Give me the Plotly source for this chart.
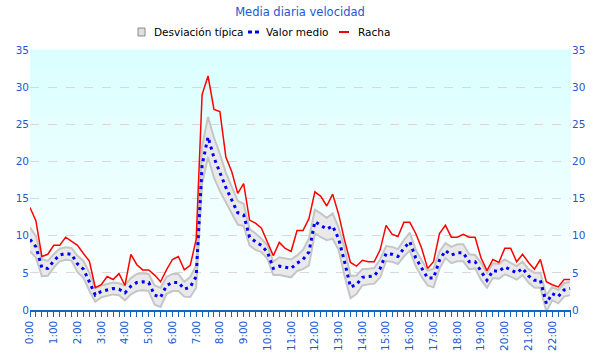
import plotly.graph_objects as go

# ---- data (15-minute steps from 0:00 to 22:45) ----
horas = [i * 0.25 for i in range(92)]

valor_medio = [9.5, 8.5, 5.7, 5.6, 6.6, 7.4, 7.6, 7.5, 6.2, 5.5,
               3.8, 2.0, 2.5, 2.7, 2.9, 2.8, 2.3, 3.2, 3.7, 3.8,
               3.7, 2.0, 1.7, 3.3, 3.7, 3.7, 2.8, 3.1, 4.5, 19.5,
               23.3, 20.5, 18.5, 16.5, 14.8, 13.1, 12.8, 9.8, 9.2, 8.7,
               7.8, 5.6, 5.9, 5.8, 5.6, 6.3, 6.8, 7.8, 11.9, 11.4,
               10.9, 11.3, 9.6, 6.5, 3.1, 3.4, 4.4, 4.5, 4.6, 5.6,
               7.6, 7.5, 7.2, 8.3, 9.2, 7.0, 5.6, 4.3, 4.3, 6.7,
               8.0, 7.4, 7.7, 7.7, 6.5, 6.5, 5.2, 4.0, 5.3, 5.2,
               5.8, 5.4, 5.0, 5.6, 4.6, 4.0, 4.0, 0.9, 2.2, 1.8,
               2.7, 2.9]

desviacion = [1.6, 1.45, 1.15, 1.0, 0.9, 0.85, 0.85, 0.85, 1.1, 1.15,
              1.2, 0.9, 0.8, 0.8, 0.8, 0.8, 1.0, 1.1, 1.15, 1.15,
              1.15, 1.3, 1.3, 1.15, 1.15, 1.15, 1.0, 1.35, 1.5, 2.5,
              2.7, 2.7, 2.5, 2.0, 1.8, 1.6, 1.5, 1.1, 1.1, 0.9,
              0.9, 0.9, 1.2, 1.2, 1.2, 1.05, 1.3, 1.8, 1.6, 1.6,
              1.5, 1.7, 1.5, 1.9, 1.5, 1.25, 1.1, 1.05, 1.05, 1.2,
              1.0, 1.0, 1.0, 1.1, 1.2, 1.1, 1.15, 1.0, 1.25, 1.15,
              1.0, 1.1, 1.15, 1.15, 1.0, 0.9, 1.15, 1.0, 1.0, 1.0,
              1.0, 0.9, 0.9, 0.9, 0.9, 1.0, 1.0, 1.1, 0.9, 0.9,
              0.9, 0.9]

racha = [13.8, 12.0, 7.2, 7.5, 8.7, 8.7, 9.8, 9.2, 8.7, 7.6,
         6.6, 3.0, 3.4, 4.5, 4.1, 4.9, 3.3, 7.5, 6.1, 5.4,
         5.4, 4.7, 3.8, 5.4, 6.8, 7.2, 5.4, 6.0, 9.5, 29.0,
         31.5, 27.0, 26.7, 20.6, 18.6, 15.7, 17.0, 12.1, 11.7, 11.0,
         9.2, 7.3, 9.1, 8.3, 7.9, 10.7, 10.7, 12.3, 15.9, 15.3,
         14.0, 15.6, 12.9, 9.4, 6.4, 5.9, 6.7, 6.5, 6.5, 8.1,
         11.4, 10.2, 9.9, 11.8, 11.8, 10.3, 8.3, 5.6, 6.5, 10.3,
         11.4, 9.8, 9.8, 10.2, 9.8, 9.8, 7.0, 5.3, 6.8, 6.4,
         8.3, 8.3, 6.5, 7.5, 6.4, 5.5, 6.8, 3.8, 3.4, 3.1,
         4.1, 4.1]

tick_horas = list(range(23))
tick_labels = [f"{h}:00" for h in tick_horas]
y_ticks = [0, 5, 10, 15, 20, 25, 30, 35]
series_names = ["Desviación típica", "Valor medio", "Racha"]

superior = [m + d for m, d in zip(valor_medio, desviacion)]
inferior = [m - d for m, d in zip(valor_medio, desviacion)]

BLUE_TXT = "#2358d0"
AXIS_BLUE = "#1565c0"
FONT = "DejaVu Sans"

FW, FH = 600, 360
# plot area in page pixels
L, R, T, B = 30, 571, 50, 310
W, H = R - L, B - T


def px(xp):
    return (xp - L) / W


def py(yp):
    return (B - yp) / H


fig = go.Figure()

fig.add_trace(go.Scatter(x=horas, y=inferior, mode="lines",
                         line=dict(color="#c6c6c6", width=2),
                         showlegend=False, hoverinfo="skip"))
fig.add_trace(go.Scatter(x=horas, y=superior, mode="lines", fill="tonexty",
                         fillcolor="#e9e9e9",
                         line=dict(color="#c6c6c6", width=2),
                         name=series_names[0], showlegend=False))
fig.add_trace(go.Scatter(x=horas, y=valor_medio, mode="lines",
                         line=dict(color="#0000ff", width=3, dash="3px,4px"),
                         name=series_names[1], showlegend=False))
fig.add_trace(go.Scatter(x=horas, y=racha, mode="lines",
                         line=dict(color="#ff0000", width=1.5),
                         name=series_names[2], showlegend=False))
# invisible trace to show the right-hand axis
fig.add_trace(go.Scatter(x=[horas[0]], y=[0], yaxis="y2", mode="markers",
                         marker=dict(opacity=0), showlegend=False,
                         hoverinfo="skip"))

# vertical gradient background (cyan -> white)
shapes = []
n = 60
for k in range(n):
    t = k / n
    r = int(218 + (255 - 218) * t)
    col = f"rgb({r},255,255)"
    shapes.append(dict(type="rect", xref="x domain", yref="y domain",
                       x0=0, x1=1, y0=1 - (k + 1) / n, y1=1 - k / n + 0.002,
                       fillcolor=col, line=dict(width=0), layer="below"))

# manual legend
ly = 32
shapes.append(dict(type="rect", xref="paper", yref="paper",
                   x0=px(138), x1=px(145), y0=py(ly + 4), y1=py(ly - 4),
                   fillcolor="#dedede", line=dict(color="#8a8a8a", width=1)))
shapes.append(dict(type="line", xref="paper", yref="paper",
                   x0=px(248), x1=px(252), y0=py(ly), y1=py(ly),
                   line=dict(color="#0000ff", width=3)))
shapes.append(dict(type="line", xref="paper", yref="paper",
                   x0=px(255), x1=px(259), y0=py(ly), y1=py(ly),
                   line=dict(color="#0000ff", width=3)))
shapes.append(dict(type="line", xref="paper", yref="paper",
                   x0=px(339), x1=px(349), y0=py(ly), y1=py(ly),
                   line=dict(color="#ff0000", width=2)))

annotations = []
for name, xp in zip(series_names, [152, 264, 356]):
    annotations.append(dict(text=name, xref="paper", yref="paper",
                            x=px(xp), y=py(ly), xanchor="left",
                            yanchor="middle", showarrow=False,
                            font=dict(family=FONT, size=10.5, color="black")))

fig.update_layout(
    width=FW, height=FH,
    margin=dict(l=L, r=FW - R, t=T, b=FH - B, autoexpand=False),
    paper_bgcolor="white",
    plot_bgcolor="white",
    font=dict(family=FONT, size=11, color="black"),
    showlegend=False,
    hovermode=False,
    shapes=shapes,
    annotations=annotations,
    title=dict(text="Media diaria velocidad", x=0.5,
               xanchor="center", y=1 - 12 / FH, yanchor="middle",
               font=dict(family=FONT, size=11.5, color=BLUE_TXT)),
    xaxis=dict(range=[0, 22.79], tickvals=tick_horas, ticktext=tick_labels,
               tickangle=-90, tickfont=dict(family=FONT, size=10.5, color=BLUE_TXT),
               showgrid=False, zeroline=False, showline=True, automargin=False,
               linecolor=AXIS_BLUE, linewidth=1.5,
               ticks="outside", ticklen=5, tickcolor=AXIS_BLUE,
               minor=dict(dtick=0.25, ticks="outside", ticklen=5,
                          tickcolor=AXIS_BLUE, showgrid=False)),
    yaxis=dict(range=[0, 35], tickvals=y_ticks, automargin=False,
               tickfont=dict(family=FONT, size=10.5, color=BLUE_TXT),
               showgrid=True, gridcolor="#ddd8d8", griddash="dash",
               gridwidth=1, zeroline=False, showline=False, ticks=""),
    yaxis2=dict(range=[0, 35], tickvals=y_ticks, overlaying="y", side="right",
                automargin=False,
                tickfont=dict(family=FONT, size=10.5, color=BLUE_TXT),
                showgrid=False, zeroline=False, showline=False, ticks=""),
)

fig.write_html(
    "out.html",
    config={"displayModeBar": False, "staticPlot": True},
    post_script="document.body.style.margin='0';document.body.style.overflow='hidden';",
)
